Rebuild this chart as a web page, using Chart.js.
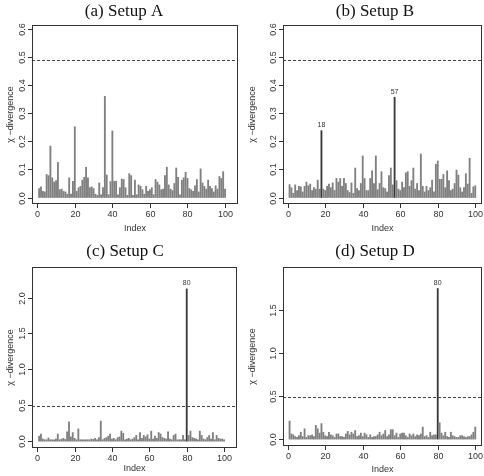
<!DOCTYPE html>
<html>
<head>
<meta charset="utf-8">
<script src="https://cdn.jsdelivr.net/npm/chart.js@4.4.0/dist/chart.umd.min.js"></script>
<style>
  html, body { margin: 0; padding: 0; background: #fff; }
  #wrap { position: relative; width: 484px; height: 476px; }
  .panel { position: absolute; width: 242px; height: 238px; }
</style>
</head>
<body>
<div id="wrap">
  <div class="panel" style="left:0;top:0"><canvas id="chart-a" width="242" height="238"></canvas></div>
  <div class="panel" style="left:242px;top:0"><canvas id="chart-b" width="242" height="238"></canvas></div>
  <div class="panel" style="left:0;top:238px"><canvas id="chart-c" width="242" height="238"></canvas></div>
  <div class="panel" style="left:242px;top:238px"><canvas id="chart-d" width="242" height="238"></canvas></div>
</div>
<script>
// chi-divergence per index (1..100)
const setupA = [
  0.032, 0.038, 0.022, 0.020, 0.082, 0.078, 0.183, 0.070, 0.055, 0.060,
  0.125, 0.028, 0.030, 0.022, 0.020, 0.012, 0.070, 0.012, 0.058, 0.252,
  0.022, 0.035, 0.040, 0.062, 0.072, 0.108, 0.070, 0.035, 0.038, 0.032,
  0.012, 0.008, 0.052, 0.010, 0.035, 0.360, 0.080, 0.010, 0.057, 0.237,
  0.058, 0.058, 0.010, 0.035, 0.066, 0.064, 0.035, 0.008, 0.085, 0.078,
  0.008, 0.062, 0.010, 0.045, 0.040, 0.028, 0.012, 0.040, 0.022, 0.028,
  0.035, 0.010, 0.064, 0.055, 0.045, 0.028, 0.030, 0.078, 0.108, 0.045,
  0.030, 0.025, 0.050, 0.105, 0.072, 0.010, 0.062, 0.070, 0.090, 0.068,
  0.032, 0.028, 0.022, 0.042, 0.064, 0.020, 0.102, 0.052, 0.040, 0.030,
  0.062, 0.040, 0.032, 0.020, 0.042, 0.030, 0.075, 0.068, 0.092, 0.030
];
const setupB = [
  0.046, 0.035, 0.015, 0.045, 0.025, 0.040, 0.038, 0.020, 0.040, 0.055,
  0.042, 0.048, 0.025, 0.035, 0.030, 0.062, 0.030, 0.238, 0.030, 0.025,
  0.040, 0.048, 0.035, 0.052, 0.025, 0.068, 0.055, 0.068, 0.040, 0.068,
  0.050, 0.025, 0.018, 0.052, 0.015, 0.105, 0.032, 0.025, 0.050, 0.148,
  0.068, 0.025, 0.025, 0.068, 0.095, 0.050, 0.148, 0.028, 0.050, 0.092,
  0.035, 0.032, 0.020, 0.078, 0.105, 0.045, 0.357, 0.060, 0.030, 0.025,
  0.055, 0.035, 0.088, 0.092, 0.040, 0.060, 0.105, 0.030, 0.050, 0.025,
  0.155, 0.040, 0.020, 0.040, 0.025, 0.035, 0.062, 0.020, 0.118, 0.130,
  0.065, 0.065, 0.082, 0.035, 0.095, 0.060, 0.025, 0.030, 0.050, 0.098,
  0.080, 0.035, 0.020, 0.035, 0.085, 0.048, 0.140, 0.015, 0.038, 0.042
];
const setupC = [
  0.07, 0.10, 0.03, 0.02, 0.02, 0.045, 0.02, 0.02, 0.02, 0.03,
  0.10, 0.02, 0.03, 0.04, 0.025, 0.13, 0.27, 0.06, 0.12, 0.04,
  0.02, 0.17, 0.02, 0.02, 0.02, 0.02, 0.02, 0.02, 0.03, 0.025,
  0.04, 0.02, 0.05, 0.28, 0.02, 0.04, 0.05, 0.07, 0.10, 0.03,
  0.04, 0.02, 0.05, 0.06, 0.14, 0.11, 0.02, 0.03, 0.04, 0.02,
  0.03, 0.05, 0.08, 0.02, 0.12, 0.04, 0.08, 0.06, 0.09, 0.03,
  0.14, 0.03, 0.07, 0.04, 0.12, 0.10, 0.05, 0.04, 0.03, 0.13,
  0.03, 0.02, 0.08, 0.10, 0.02, 0.02, 0.02, 0.08, 0.02, 2.12,
  0.08, 0.14, 0.05, 0.04, 0.03, 0.02, 0.14, 0.08, 0.03, 0.02,
  0.05, 0.08, 0.03, 0.12, 0.02, 0.08, 0.04, 0.03, 0.03, 0.02
];
const setupD = [
  0.21, 0.06, 0.05, 0.03, 0.02, 0.04, 0.08, 0.03, 0.12, 0.02,
  0.04, 0.04, 0.05, 0.03, 0.16, 0.12, 0.07, 0.18, 0.08, 0.04,
  0.03, 0.08, 0.05, 0.04, 0.02, 0.06, 0.06, 0.03, 0.03, 0.02,
  0.06, 0.09, 0.05, 0.08, 0.06, 0.10, 0.03, 0.04, 0.07, 0.03,
  0.07, 0.05, 0.02, 0.05, 0.02, 0.03, 0.03, 0.05, 0.08, 0.04,
  0.06, 0.10, 0.03, 0.05, 0.11, 0.11, 0.04, 0.07, 0.02, 0.06,
  0.07, 0.07, 0.04, 0.02, 0.06, 0.04, 0.06, 0.03, 0.05, 0.04,
  0.06, 0.14, 0.03, 0.04, 0.02, 0.08, 0.04, 0.05, 0.05, 1.75,
  0.19, 0.07, 0.04, 0.08, 0.03, 0.02, 0.08, 0.04, 0.03, 0.02,
  0.02, 0.04, 0.04, 0.03, 0.02, 0.03, 0.03, 0.05, 0.08, 0.14
];

// flagged indices (labelled above their bar)
const flaggedA = [];
const flaggedB = [18, 57];
const flaggedC = [80];
const flaggedD = [80];

const threshold = 0.49;

const xTicks = [0, 20, 40, 60, 80, 100];
const yTicksAB = [0.0, 0.1, 0.2, 0.3, 0.4, 0.5, 0.6];
const yTicksC = [0.0, 0.5, 1.0, 1.5, 2.0];
const yTicksD = [0.0, 0.5, 1.0, 1.5];

const titles = ['(a) Setup A', '(b) Setup B', '(c) Setup C', '(d) Setup D'];
const yTitle = 'χ −divergence';
const xTitle = 'Index';

const AXIS_FONT = '9px "Liberation Sans", Arial, sans-serif';
const INK = '#333';

// R-like axes, box, threshold line and flag labels
const rStyle = {
  id: 'rStyle',
  afterDraw(chart) {
    const o = chart.options.plugins.rStyle;
    const { ctx, chartArea: a } = chart;
    const xs = chart.scales.x, ys = chart.scales.y;
    ctx.save();

    // threshold
    ctx.strokeStyle = '#444';
    ctx.lineWidth = 1;
    ctx.setLineDash([3, 2]);
    const ty = Math.round(ys.getPixelForValue(threshold)) + 0.5;
    ctx.beginPath();
    ctx.moveTo(a.left, ty);
    ctx.lineTo(a.right, ty);
    ctx.stroke();
    ctx.setLineDash([]);

    // box
    ctx.strokeStyle = INK;
    ctx.strokeRect(a.left + 0.5, a.top + 0.5, a.right - a.left - 1, a.bottom - a.top - 1);

    ctx.fillStyle = INK;
    ctx.font = AXIS_FONT;

    // x ticks
    ctx.textAlign = 'center';
    ctx.textBaseline = 'top';
    xTicks.forEach(v => {
      const px = Math.round(xs.getPixelForValue(v)) + 0.5;
      ctx.beginPath();
      ctx.moveTo(px, a.bottom);
      ctx.lineTo(px, a.bottom + 4);
      ctx.stroke();
      ctx.fillText(String(v), px, a.bottom + 6);
    });

    // y ticks, labels rotated as in R
    o.yTicks.forEach(v => {
      const py = Math.round(ys.getPixelForValue(v)) + 0.5;
      ctx.beginPath();
      ctx.moveTo(a.left - 4, py);
      ctx.lineTo(a.left, py);
      ctx.stroke();
      ctx.save();
      ctx.translate(a.left - 9, py);
      ctx.rotate(-Math.PI / 2);
      ctx.textAlign = 'center';
      ctx.textBaseline = 'middle';
      ctx.fillText(v.toFixed(1), 0, 0);
      ctx.restore();
    });

    // axis titles
    ctx.textAlign = 'center';
    ctx.textBaseline = 'middle';
    ctx.fillText(xTitle, (a.left + a.right) / 2, o.xTitleY);
    ctx.save();
    ctx.translate(11, (a.top + a.bottom) / 2);
    ctx.rotate(-Math.PI / 2);
    ctx.fillText(yTitle, 0, 0);
    ctx.restore();

    // flagged indices
    ctx.font = '7px "Liberation Sans", Arial, sans-serif';
    ctx.textBaseline = 'bottom';
    o.flagged.forEach(i => {
      const px = xs.getPixelForValue(i);
      const py = ys.getPixelForValue(o.values[i - 1]);
      ctx.fillText(String(i), px, py - 2);
    });

    // subfigure caption
    ctx.font = '17px "Liberation Serif", "DejaVu Serif", serif';
    ctx.fillStyle = '#111';
    ctx.textBaseline = 'middle';
    ctx.fillText(o.title, o.titleX, o.titleY);

    ctx.restore();
  }
};

function makePanel(id, cfg) {
  const pts = cfg.values.map((v, i) => ({ x: i + 1, y: v }));
  const colors = cfg.values.map((v, i) => cfg.flagged.includes(i + 1) ? '#3a3a3a' : '#808080');
  return new Chart(document.getElementById(id), {
    type: 'bar',
    data: {
      datasets: [{
        data: pts,
        backgroundColor: colors,
        barThickness: 1.2
      }]
    },
    options: {
      responsive: false,
      animation: false,
      events: [],
      layout: { padding: cfg.padding },
      plugins: {
        legend: { display: false },
        tooltip: { enabled: false },
        rStyle: cfg
      },
      scales: {
        x: { type: 'linear', offset: false, min: cfg.xMin, max: cfg.xMax, display: false },
        y: { min: cfg.yMin, max: cfg.yMax, display: false }
      }
    },
    plugins: [rStyle]
  });
}

makePanel('chart-a', {
  values: setupA, flagged: flaggedA, yTicks: yTicksAB,
  xMin: -2.8, xMax: 106.9, yMin: -0.023, yMax: 0.614,
  padding: { left: 32, right: 4, top: 25, bottom: 34 },
  title: titles[0], titleX: 124, titleY: 12, xTitleY: 229
});
makePanel('chart-b', {
  values: setupB, flagged: flaggedB, yTicks: yTicksAB,
  xMin: -2.5, xMax: 103.6, yMin: -0.023, yMax: 0.614,
  padding: { left: 41, right: 2, top: 25, bottom: 34 },
  title: titles[1], titleX: 133, titleY: 12, xTitleY: 229
});
makePanel('chart-c', {
  values: setupC, flagged: flaggedC, yTicks: yTicksC,
  xMin: -2.8, xMax: 106.9, yMin: -0.095, yMax: 2.425,
  padding: { left: 32, right: 5, top: 29, bottom: 28 },
  title: titles[2], titleX: 125, titleY: 14, xTitleY: 231
});
makePanel('chart-d', {
  values: setupD, flagged: flaggedD, yTicks: yTicksD,
  xMin: -2.5, xMax: 103.6, yMin: -0.08, yMax: 2.0,
  padding: { left: 41, right: 2, top: 29, bottom: 30 },
  title: titles[3], titleX: 133, titleY: 14, xTitleY: 232
});
</script>
</body>
</html>
